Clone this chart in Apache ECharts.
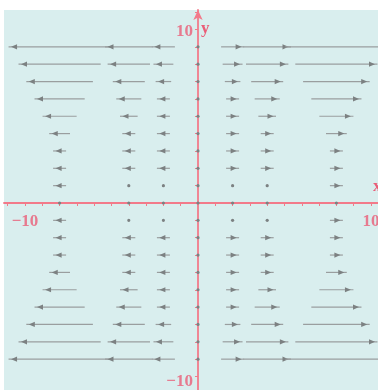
<!DOCTYPE html>
<html>
<head>
<meta charset="utf-8">
<script src="https://cdn.jsdelivr.net/npm/echarts@6/dist/echarts.min.js"></script>
<style>
  html, body { margin: 0; padding: 0; background: #ffffff; }
  #chart { width: 378px; height: 390px; }
</style>
</head>
<body>
<div id="chart"></div>
<script>
// Sample rows (y) and columns (x) of the horizontal vector field
const rowsY = [9, 8, 7, 6, 5, 4, 3, 2, 1, 0, -1, -2, -3, -4, -5, -6, -7, -8, -9];
const colsX = [-8, -4, -2, 0, 2, 4, 8];

// Horizontal component u at each sample, one array per column, in rowsY order
const uAtXm8 = [-5.9, -4.75, -3.85, -2.9, -1.97, -1.2, -0.65, -0.29, -0.07, 0, -0.07, -0.29, -0.65, -1.2, -1.97, -2.9, -3.85, -4.75, -5.9];
const uAtXm4 = [-2.75, -2.45, -1.85, -1.45, -1.02, -0.6, -0.33, -0.15, -0.036, 0, -0.036, -0.15, -0.33, -0.6, -1.02, -1.45, -1.85, -2.45, -2.75];
const uAtXm2 = [-1.33, -1.15, -0.9, -0.7, -0.5, -0.3, -0.16, -0.07, -0.018, 0, -0.018, -0.07, -0.16, -0.3, -0.5, -0.7, -0.9, -1.15, -1.33];
const uAtX0  = [0, 0, 0, 0, 0, 0, 0, 0, 0, 0, 0, 0, 0, 0, 0, 0, 0, 0, 0];
const uAtX2  = [1.33, 1.15, 0.9, 0.7, 0.5, 0.3, 0.16, 0.07, 0.018, 0, 0.018, 0.07, 0.16, 0.3, 0.5, 0.7, 0.9, 1.15, 1.33];
const uAtX4  = [2.75, 2.45, 1.85, 1.45, 1.02, 0.6, 0.33, 0.15, 0.036, 0, 0.036, 0.15, 0.33, 0.6, 1.02, 1.45, 1.85, 2.45, 2.75];
const uAtX8  = [5.9, 4.75, 3.85, 2.9, 1.97, 1.2, 0.65, 0.29, 0.07, 0, 0.07, 0.29, 0.65, 1.2, 1.97, 2.9, 3.85, 4.75, 5.9];

// Axis tick positions
const xTicks = [-11, -10, -9, -8, -7, -6, -5, -4, -3, -2, -1, 1, 2, 3, 4, 5, 6, 7, 8, 9, 10];
const yTicks = [-10, -9, -8, -7, -6, -5, -4, -3, -2, -1, 1, 2, 3, 4, 5, 6, 7, 8, 9, 10, 11];
// Labelled ticks along each axis
const xLabelValues = [-10, 10];
const yLabelValues = [10, -10];

const uColumns = [uAtXm8, uAtXm4, uAtXm2, uAtX0, uAtX2, uAtX4, uAtX8];
const fieldData = [];
colsX.forEach((x, ci) => {
  rowsY.forEach((y, ri) => {
    fieldData.push([x, y, uColumns[ci][ri]]);
  });
});

const axisRed = '#f27a8a';
const labelRed = '#ea5d77';
const arrowLine = '#9a9e9f';
const arrowHead = '#7c8182';
const labelFont = { color: labelRed, fontFamily: 'Liberation Serif', fontWeight: 'bold', fontSize: 17 };
const fmt = v => (v < 0 ? '\u2212' + Math.abs(v) : String(v));

function renderArrow(params, api) {
  const x = api.value(0);
  const y = api.value(1);
  const u = api.value(2);
  const c = api.coord([x, y]);
  const ppu = api.size([1, 0])[0];
  if (Math.abs(u) < 0.05) {
    return {
      type: 'circle',
      shape: { cx: c[0], cy: c[1], r: 1.6 },
      style: { fill: arrowHead }
    };
  }
  const dir = u > 0 ? 1 : -1;
  const len = Math.max(Math.abs(u) * ppu, 13);
  const x0 = c[0] - dir * len / 2;
  const x1 = c[0] + dir * len / 2;
  const tip = x1 - dir * 2.5;
  const base = tip - dir * 6;
  return {
    type: 'group',
    children: [
      {
        type: 'line',
        shape: { x1: x0, y1: c[1], x2: x1, y2: c[1] },
        style: { stroke: arrowLine, lineWidth: 1.2 }
      },
      {
        type: 'polygon',
        shape: { points: [[tip, c[1]], [base, c[1] - 2.6], [base, c[1] + 2.6]] },
        style: { fill: arrowHead }
      }
    ]
  };
}

const chart = echarts.init(document.getElementById('chart'), null, { renderer: 'canvas' });
chart.setOption({
  animation: false,
  backgroundColor: '#ffffff',
  grid: {
    left: 4, right: 0, top: 10, bottom: 0,
    outerBoundsMode: 'none', containLabel: false,
    show: true, backgroundColor: '#d9eeee', borderWidth: 0
  },
  xAxis: {
    type: 'value',
    min: -11.214, max: 10.405,
    splitLine: { show: false },
    axisLine: { onZero: true, lineStyle: { color: axisRed, width: 1.8 } },
    axisTick: { customValues: xTicks, length: 3, lineStyle: { color: axisRed, width: 1 } },
    axisLabel: { show: false }
  },
  yAxis: {
    type: 'value',
    min: -10.778, max: 11.124,
    splitLine: { show: false },
    axisLine: {
      onZero: true,
      symbol: ['none', 'arrow'], symbolSize: [7, 10], symbolOffset: [0, 0],
      lineStyle: { color: axisRed, width: 1.8 }
    },
    axisTick: { customValues: yTicks, length: 3, lineStyle: { color: axisRed, width: 1 } },
    axisLabel: { show: false }
  },
  graphic: [
    { type: 'text', left: 201, top: 20, style: { text: 'y', fill: labelRed, font: 'bold 17px "Liberation Serif"' } },
    { type: 'text', left: 373, top: 178, style: { text: 'x', fill: labelRed, font: 'bold 17px "Liberation Serif"' } }
  ],
  series: [
    {
      type: 'custom',
      clip: false,
      renderItem: renderArrow,
      data: fieldData,
      z: 3
    },
    {
      // tick labels on the x axis
      type: 'scatter',
      symbolSize: 0,
      silent: true,
      data: xLabelValues.map(v => [v, 0]),
      label: { show: true, position: 'bottom', distance: 10, formatter: p => fmt(p.value[0]), ...labelFont },
      z: 4
    },
    {
      // tick labels on the y axis
      type: 'scatter',
      symbolSize: 0,
      silent: true,
      data: yLabelValues.map(v => [0, v]),
      label: {
        show: true, position: 'left', distance: 5,
        formatter: p => fmt(p.value[1]), ...labelFont
      },
      labelLayout: p => (p.dataIndex === 1 ? { dy: 5 } : { dy: 2 }),
      z: 4
    }
  ]
});
</script>
</body>
</html>
